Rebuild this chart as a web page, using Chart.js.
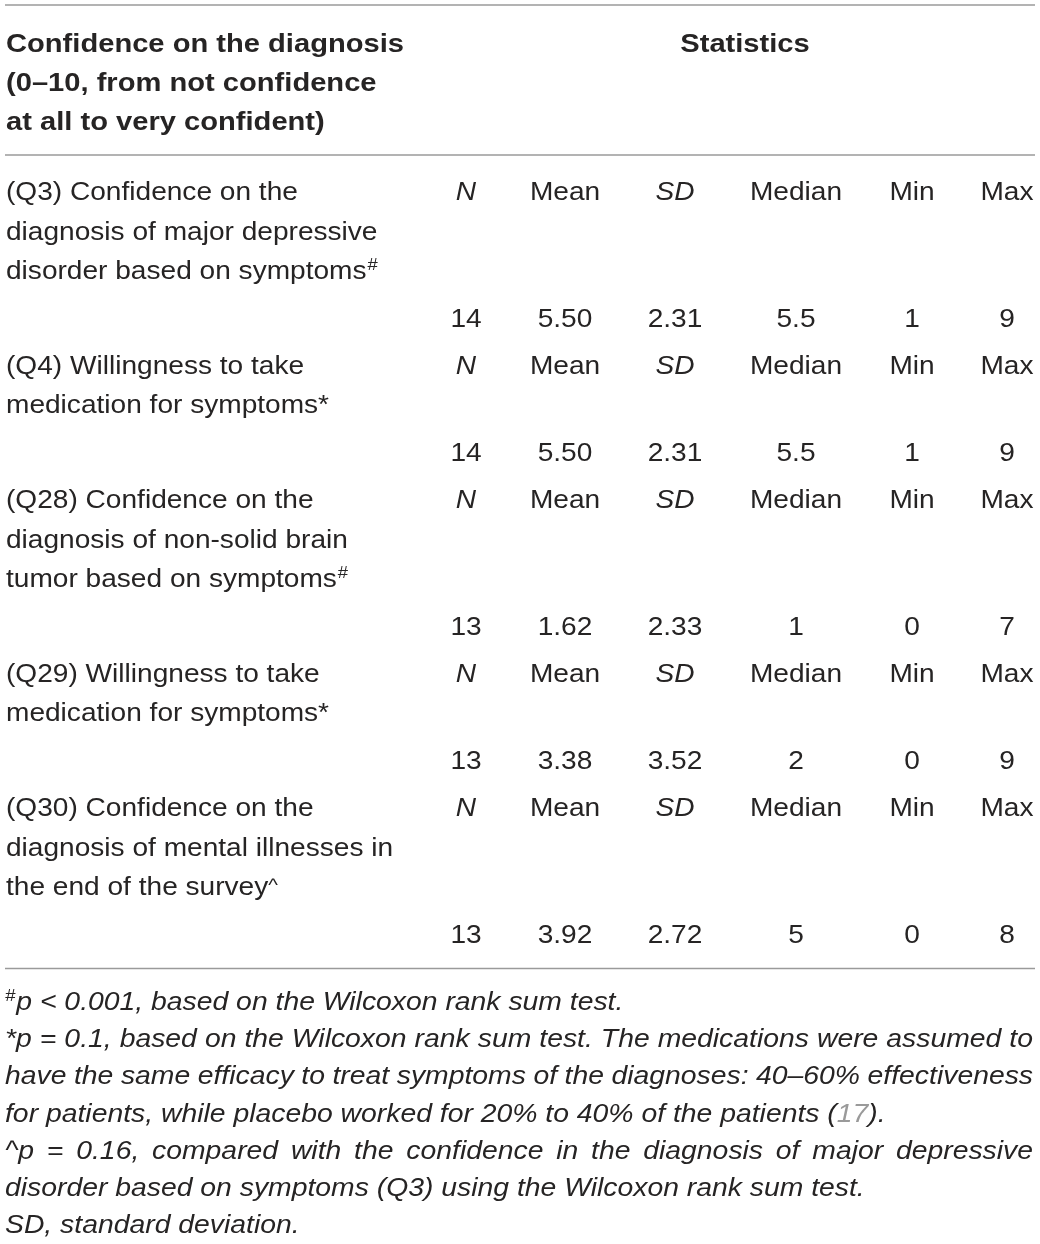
<!DOCTYPE html>
<html lang="en">
<head>
<meta charset="UTF-8">
<title>Confidence on the diagnosis</title>
<script src="https://cdn.jsdelivr.net/npm/chart.js"></script>
<style>
  body { margin: 0; background: #fff; }
  canvas { display: block; }
</style>
</head>
<body>
<canvas id="tableChart" width="1040" height="1244"></canvas>
<script>
// table content
const headerLines = ['Confidence on the diagnosis', '(0–10, from not confidence', 'at all to very confident)'];
const statsTitle = 'Statistics';
const statColumns = ['N', 'Mean', 'SD', 'Median', 'Min', 'Max'];
const italicColumns = ['N', 'SD'];
const itemLines = [
  ['(Q3) Confidence on the', 'diagnosis of major depressive', 'disorder based on symptoms'],
  ['(Q4) Willingness to take', 'medication for symptoms'],
  ['(Q28) Confidence on the', 'diagnosis of non-solid brain', 'tumor based on symptoms'],
  ['(Q29) Willingness to take', 'medication for symptoms'],
  ['(Q30) Confidence on the', 'diagnosis of mental illnesses in', 'the end of the survey']
];
const itemMarks = ['#', '*', '#', '*', '^'];
const nValues = [14, 14, 13, 13, 13];
const meanValues = [5.50, 5.50, 1.62, 3.38, 3.92];
const sdValues = [2.31, 2.31, 2.33, 3.52, 2.72];
const medianValues = [5.5, 5.5, 1, 2, 5];
const minValues = [1, 1, 0, 0, 0];
const maxValues = [9, 9, 7, 9, 8];

const footnoteLines = [
  'p < 0.001, based on the Wilcoxon rank sum test.',
  'p = 0.1, based on the Wilcoxon rank sum test. The medications were assumed to',
  'have the same efficacy to treat symptoms of the diagnoses: 40–60% effectiveness',
  'for patients, while placebo worked for 20% to 40% of the patients (17).',
  'p = 0.16, compared with the confidence in the diagnosis of major depressive',
  'disorder based on symptoms (Q3) using the Wilcoxon rank sum test.',
  'SD, standard deviation.'
];
const footnoteMarks = ['#', '*', '', '', '^', '', ''];
const justifiedLines = [false, true, true, false, true, false, false];
const refNumber = '17';

// layout
const W = 1040, H = 1244;
const leftX = 6, ruleLeft = 5, ruleRight = 1035;
const colCenters = [466, 565, 675, 796, 912, 1007];
const statsCenter = 745;
const headerBase = 52, headerStep = 39;
const topRule = 5, headRule = 155;
const firstBase = 200, lineStep = 39.6, blockGap = 47.3;
const footBase = 1010, footStep = 37.2;
const sxBold = 1.12, sxText = 1.08, sxFoot = 1.09;

const textColor = '#262424';
const ruleColor = '#9a9a9a';
const refColor = '#9a9a9a';
const family = '"Liberation Sans", Arial, sans-serif';

// baselines of every label line and every number row
const labelBases = [];
const numberBases = [];
let yCur = firstBase;
itemLines.forEach(lines => {
  const bases = lines.map((l, i) => yCur + i * lineStep);
  labelBases.push(bases);
  yCur = bases[bases.length - 1] + blockGap;
  numberBases.push(yCur);
  yCur += blockGap;
});
const bottomRule = numberBases[numberBases.length - 1] + 26;

const fmt2 = v => v.toFixed(2);
const columnValues = [
  nValues.map(String),
  meanValues.map(fmt2),
  sdValues.map(fmt2),
  medianValues.map(String),
  minValues.map(String),
  maxValues.map(String)
];

// one scatter dataset per statistics column, one point per cell
const datasets = statColumns.map((col, c) => ({
  label: col,
  data: [].concat(...numberBases.map((yb, r) => [
    { x: colCenters[c], y: labelBases[r][0], text: col, head: true },
    { x: colCenters[c], y: yb, text: columnValues[c][r], head: false }
  ])),
  pointRadius: 0,
  showLine: false
}));

// draw text stretched horizontally by sx, returns drawn width
function drawText(ctx, t, x, y, sx) {
  ctx.save();
  ctx.translate(x, y);
  ctx.scale(sx, 1);
  ctx.fillText(t, 0, 0);
  ctx.restore();
  return ctx.measureText(t).width * sx;
}

const tablePlugin = {
  id: 'tableText',
  afterDatasetsDraw(chart) {
    const ctx = chart.ctx;
    const xs = chart.scales.x, ys = chart.scales.y;
    const px = v => xs.getPixelForValue(v);
    const py = v => ys.getPixelForValue(v);
    ctx.save();
    ctx.textBaseline = 'alphabetic';

    // rules
    ctx.strokeStyle = ruleColor;
    ctx.lineWidth = 1.6;
    [topRule, headRule, bottomRule].forEach(yv => {
      ctx.beginPath();
      ctx.moveTo(px(ruleLeft), py(yv));
      ctx.lineTo(px(ruleRight), py(yv));
      ctx.stroke();
    });

    // header
    ctx.fillStyle = textColor;
    ctx.font = 'bold 26px ' + family;
    ctx.textAlign = 'left';
    headerLines.forEach((t, i) => drawText(ctx, t, px(leftX), py(headerBase + i * headerStep), sxBold));
    ctx.textAlign = 'center';
    drawText(ctx, statsTitle, px(statsCenter), py(headerBase), sxBold);

    // item labels
    itemLines.forEach((lines, r) => {
      lines.forEach((t, i) => {
        ctx.textAlign = 'left';
        ctx.font = '26px ' + family;
        const x0 = px(leftX), y0 = py(labelBases[r][i]);
        const w = drawText(ctx, t, x0, y0, sxText);
        if (i === lines.length - 1) {
          const m = itemMarks[r];
          if (m === '#') {
            ctx.font = '17px ' + family;
            drawText(ctx, m, x0 + w + 1, y0 - 9, sxText);
          } else if (m === '^') {
            ctx.font = '19px ' + family;
            drawText(ctx, m, x0 + w, y0 - 4, sxText);
          } else {
            drawText(ctx, m, x0 + w, y0, sxText);
          }
        }
      });
    });

    // statistics cells
    chart.data.datasets.forEach((ds, di) => {
      const meta = chart.getDatasetMeta(di);
      meta.data.forEach((el, k) => {
        const d = ds.data[k];
        const it = d.head && italicColumns.includes(d.text);
        ctx.font = (it ? 'italic ' : '') + '26px ' + family;
        ctx.textAlign = 'center';
        ctx.fillStyle = textColor;
        drawText(ctx, d.text, el.x, el.y, sxText);
      });
    });

    // footnotes
    ctx.textAlign = 'left';
    footnoteLines.forEach((t, i) => {
      let x = px(leftX - 1);
      const y = py(footBase + i * footStep);
      const m = footnoteMarks[i];
      ctx.fillStyle = textColor;
      if (m === '#') {
        ctx.font = 'italic 17px ' + family;
        x += drawText(ctx, m, x, y - 9, sxFoot) + 1;
      } else if (m) {
        ctx.font = 'italic 26px ' + family;
        x += drawText(ctx, m, x, y, sxFoot);
      }
      ctx.font = 'italic 26px ' + family;
      const words = t.split(' ');
      let gap = ctx.measureText(' ').width * sxFoot;
      if (justifiedLines[i]) {
        const wsum = words.reduce((s, w) => s + ctx.measureText(w).width * sxFoot, 0);
        gap = (px(ruleRight - 2) - x - wsum) / (words.length - 1);
      }
      words.forEach(w => {
        const idx = w.indexOf(refNumber);
        if (idx >= 0 && w.startsWith('(')) {
          const parts = [w.slice(0, idx), refNumber, w.slice(idx + refNumber.length)];
          parts.forEach((p, pi) => {
            ctx.fillStyle = pi === 1 ? refColor : textColor;
            x += drawText(ctx, p, x, y, sxFoot);
          });
          ctx.fillStyle = textColor;
          x += gap;
        } else {
          ctx.fillStyle = textColor;
          x += drawText(ctx, w, x, y, sxFoot) + gap;
        }
      });
    });
    ctx.restore();
  }
};

new Chart(document.getElementById('tableChart').getContext('2d'), {
  type: 'scatter',
  data: { datasets: datasets },
  options: {
    responsive: false,
    animation: false,
    layout: { padding: 0 },
    scales: {
      x: { type: 'linear', min: 0, max: W, display: false },
      y: { type: 'linear', min: 0, max: H, reverse: true, display: false }
    },
    plugins: { legend: { display: false }, tooltip: { enabled: false } }
  },
  plugins: [tablePlugin]
});
</script>
</body>
</html>
